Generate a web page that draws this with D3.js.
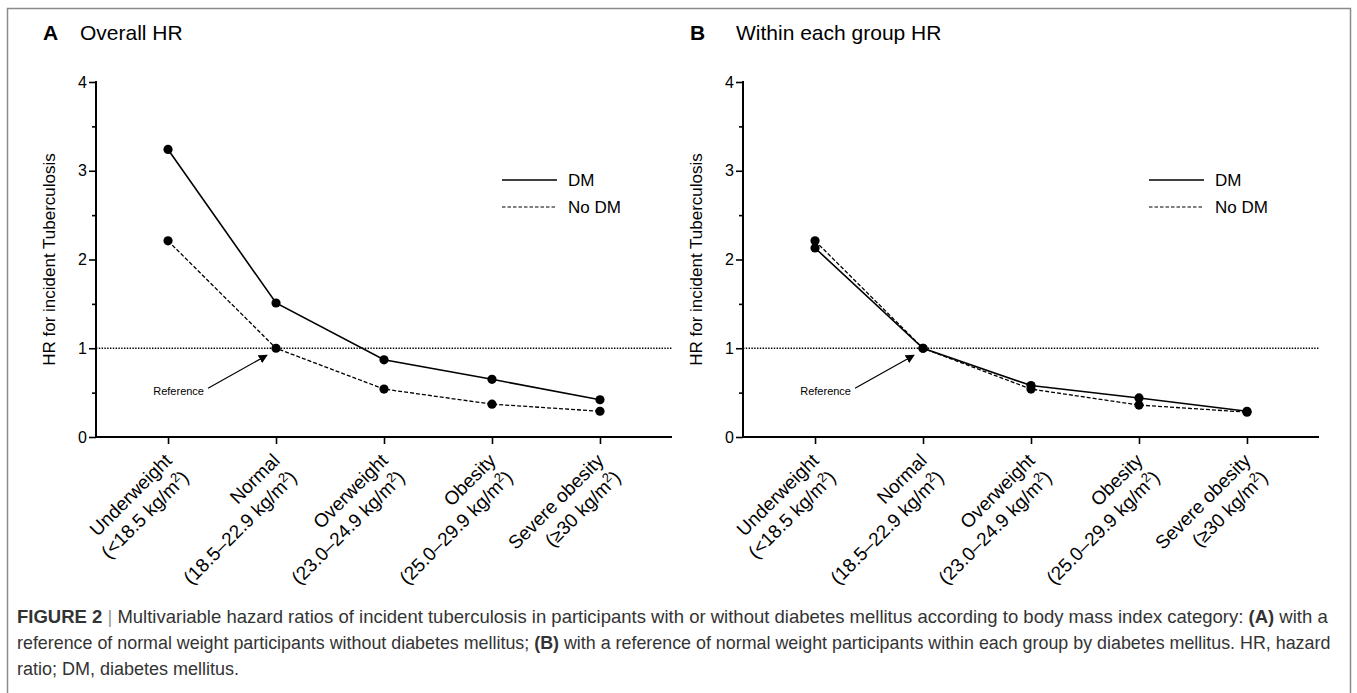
<!DOCTYPE html>
<html>
<head>
<meta charset="utf-8">
<script src="https://cdn.jsdelivr.net/npm/d3@7"></script>
<style>
  body { margin: 0; background: #fff; }
  svg { display: block; font-family: "Liberation Sans", Arial, sans-serif; }
</style>
</head>
<body>
<svg width="1357" height="693"></svg>
<script>
// categories and values
const categories = ["Underweight", "Normal", "Overweight", "Obesity", "Severe obesity"];
const bmiRanges = ["<18.5", "18.5–22.9", "23.0–24.9", "25.0–29.9", "≥30"];

const overallDM   = [3.24, 1.51, 0.87, 0.65, 0.42];
const overallNoDM = [2.21, 1.00, 0.54, 0.37, 0.29];
const withinDM    = [2.13, 1.00, 0.58, 0.44, 0.29];
const withinNoDM  = [2.21, 1.00, 0.54, 0.36, 0.28];

const yTicks = [0, 1, 2, 3, 4];
const yMinorTicks = [0.5, 1.5, 2.5, 3.5];
const refHR = 1;

const seriesNames = ["DM", "No DM"];

const captionLines = [
	[["FIGURE 2", true], [" | ", false], ["Multivariable hazard ratios of incident tuberculosis in participants with or without diabetes mellitus according to body mass index category: ", false], ["(A)", true], [" with a", false]],
	[["reference of normal weight participants without diabetes mellitus; ", false], ["(B)", true], [" with a reference of normal weight participants within each group by diabetes mellitus. HR, hazard", false]],
	[["ratio; DM, diabetes mellitus.", false]]
];

const svg = d3.select("svg");

// frame
svg.append("path")
	.attr("d", "M7.5,693V8.5H1350.5V693")
	.attr("fill", "none")
	.attr("stroke", "#8a8a8a")
	.attr("stroke-width", 1.5);

svg.append("defs").append("marker")
	.attr("id", "arrow")
	.attr("viewBox", "0 0 10 10")
	.attr("refX", 9).attr("refY", 5)
	.attr("markerWidth", 9).attr("markerHeight", 9)
	.attr("markerUnits", "userSpaceOnUse")
	.attr("orient", "auto")
	.append("path")
	.attr("d", "M0,0L10,5L0,10z")
	.attr("fill", "#000");

function drawPanel(x0, letter, title, dm, nodm) {
	const g = svg.append("g").attr("transform", `translate(${x0},0)`);

	const x = d3.scalePoint().domain(categories).range([96, 672]).padding(0.667);
	const y = d3.scaleLinear().domain([0, 4]).range([437, 82]);

	// title
	g.append("text").attr("x", 43).attr("y", 40)
		.attr("font-size", 21).attr("font-weight", "bold").text(letter);
	g.append("text").attr("x", letter === "A" ? 80 : 89).attr("y", 40)
		.attr("font-size", 21).text(title);

	// y label
	g.append("text")
		.attr("transform", `translate(55,${(y(0) + y(4)) / 2}) rotate(-90)`)
		.attr("text-anchor", "middle")
		.attr("font-size", 17)
		.text("HR for incident Tuberculosis");

	// reference line
	g.append("line")
		.attr("x1", 96).attr("x2", 672)
		.attr("y1", y(refHR)).attr("y2", y(refHR))
		.attr("stroke", "#000").attr("stroke-width", 1.4)
		.attr("stroke-dasharray", "1.4,1.4");

	// axes
	const yAxis = g.append("g").attr("transform", "translate(96,0)")
		.call(d3.axisLeft(y).tickValues(yTicks).tickSize(7).tickPadding(2).tickFormat(d3.format("d")));
	g.append("g").attr("transform", "translate(96,0)")
		.call(d3.axisLeft(y).tickValues(yMinorTicks).tickSize(4).tickFormat(""))
		.select(".domain").remove();
	const xAxis = g.append("g").attr("transform", `translate(0,${y(0)})`)
		.call(d3.axisBottom(x).tickSize(7).tickFormat(""));

	yAxis.select(".domain").remove();
	xAxis.select(".domain").remove();
	g.append("line").attr("x1", 96).attr("x2", 96).attr("y1", y(4) - 1).attr("y2", y(0) + 1)
		.attr("stroke", "#000").attr("stroke-width", 2);
	g.append("line").attr("x1", 95).attr("x2", 672).attr("y1", y(0)).attr("y2", y(0))
		.attr("stroke", "#000").attr("stroke-width", 2);
	g.selectAll(".tick line").attr("stroke-width", 1.6);
	yAxis.selectAll("text").attr("font-size", 16).attr("fill", "#000");

	// category labels
	const lab = g.append("g").selectAll("text")
		.data(categories)
		.join("text")
		.attr("transform", d => `translate(${x(d)},${y(0)}) rotate(-45)`)
		.attr("text-anchor", "end")
		.attr("font-size", 19);
	lab.append("tspan").attr("x", -14).attr("y", 21).text(d => d);
	lab.each(function (d, i) {
		const t = d3.select(this).append("tspan").attr("x", -14).attr("y", 45);
		t.append("tspan").text("(" + bmiRanges[i] + " kg/m");
		t.append("tspan").attr("font-size", 13).attr("dy", -7).text("2");
		t.append("tspan").attr("dy", 7).text(")");
	});

	// series
	const line = d3.line().x((d, i) => x(categories[i])).y(d => y(d));
	g.append("path").datum(nodm).attr("d", line)
		.attr("fill", "none").attr("stroke", "#000").attr("stroke-width", 1.3)
		.attr("stroke-dasharray", "4,2");
	g.append("path").datum(dm).attr("d", line)
		.attr("fill", "none").attr("stroke", "#000").attr("stroke-width", 1.6);

	[dm, nodm].forEach(s => {
		g.append("g").selectAll("circle").data(s).join("circle")
			.attr("cx", (d, i) => x(categories[i]))
			.attr("cy", d => y(d))
			.attr("r", 4.6)
			.attr("fill", "#000");
	});

	// legend
	const leg = g.append("g").selectAll("g").data(seriesNames).join("g")
		.attr("transform", (d, i) => `translate(502,${180 + i * 27})`);
	leg.append("line").attr("x1", 0).attr("x2", 55)
		.attr("stroke", "#000").attr("stroke-width", (d, i) => i ? 1.2 : 1.6)
		.attr("stroke-dasharray", (d, i) => i ? "3.5,2" : null);
	leg.append("text").attr("x", 66).attr("y", 6).attr("font-size", 17).text(d => d);

	// reference annotation
	const rx = x(categories[1]), ry = y(refHR);
	g.append("line")
		.attr("x1", rx - 68).attr("y1", ry + 40)
		.attr("x2", rx - 9).attr("y2", ry + 7)
		.attr("stroke", "#000").attr("stroke-width", 1.2)
		.attr("marker-end", "url(#arrow)");
	g.append("text").attr("x", rx - 72).attr("y", ry + 47)
		.attr("text-anchor", "end").attr("font-size", 11).text("Reference");
}

drawPanel(0, "A", "Overall HR", overallDM, overallNoDM);
drawPanel(647, "B", "Within each group HR", withinDM, withinNoDM);

// caption: full lines get a font size that fills the text block width
const cap = svg.append("g").attr("fill", "#333");
captionLines.forEach((parts, i) => {
	const t = cap.append("text").attr("x", 17).attr("y", 623 + i * 26).attr("font-size", 18);
	parts.forEach(([s, b]) => {
		const sp = t.append("tspan").text(s);
		if (b) sp.attr("font-weight", "bold");
		if (s === " | ") sp.attr("fill", "#999");
	});
	if (i < captionLines.length - 1) {
		const w = t.node().getComputedTextLength();
		t.attr("font-size", Math.min(18.5, 18 * 1314 / w));
	}
});
</script>
</body>
</html>
